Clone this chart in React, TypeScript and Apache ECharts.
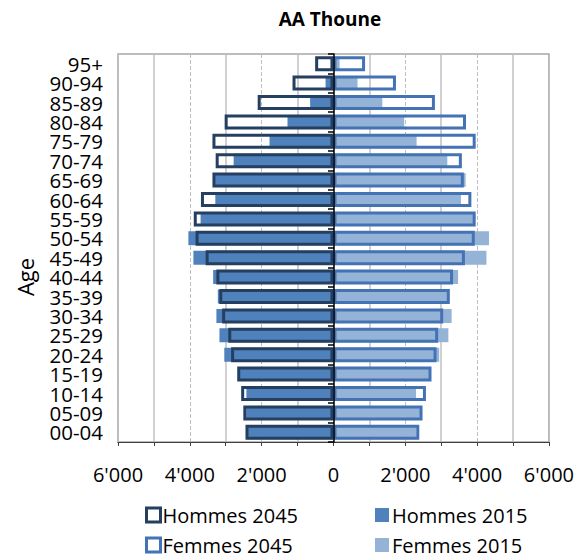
import React, { useEffect, useRef } from "react";
import * as echarts from "echarts";

const categories = ["00-04","05-09","10-14","15-19","20-24","25-29","30-34","35-39","40-44","45-49","50-54","55-59","60-64","65-69","70-74","75-79","80-84","85-89","90-94","95+"];
const men2015 = [2400,2430,2425,2620,3040,3175,3260,3220,3350,3900,4040,3700,3290,3330,2780,1780,1280,650,220,40];
const men2045 = [2450,2510,2570,2680,2850,2930,3100,3180,3260,3560,3840,3890,3690,3370,3280,3370,3030,2110,1140,510];
const women2015 = [2315,2410,2300,2670,2945,3200,3290,3170,3470,4260,4330,3920,3550,3680,3170,2315,1970,1360,670,170];
const women2045 = [2390,2480,2575,2730,2870,2915,3055,3240,3330,3660,3935,3960,3840,3630,3575,3960,3690,2825,1740,880];

const FONT = "'Open Sans', 'Noto Sans', sans-serif";
const MEN_FILL = "#4F81BD";
const WOMEN_FILL = "#95B3D7";
const MEN_LINE = "#243F60";
const WOMEN_LINE = "#4373B4";

function fmt(v: number): string {
  const a = Math.abs(v);
  if (a === 0) return "0";
  const s = String(a);
  return s.replace(/\B(?=(\d{3})+(?!\d))/g, "'");
}

export default function App() {
  const ref = useRef<HTMLDivElement>(null);
  useEffect(() => {
    document.body.style.margin = "0";
    if (!ref.current) return;
    const chart = echarts.init(ref.current, undefined, { renderer: "svg" });
    chart.setOption({
      animation: false,
      backgroundColor: "#ffffff",
      textStyle: { fontFamily: FONT },
      graphic: [
        {
          type: "text",
          x: 330,
          y: 19,
          style: { text: "AA Thoune", font: `bold 19px ${FONT}`, fill: "#000", textAlign: "center", textVerticalAlign: "middle" },
        },
        {
          type: "text",
          x: 25,
          y: 277,
          rotation: Math.PI / 2,
          style: { text: "Age", font: `22px ${FONT}`, fill: "#000", textAlign: "center", textVerticalAlign: "middle" },
        },
      ],
      grid: { left: 118, right: 27, top: 54, bottom: 116, show: true, borderColor: "#A6A6A6", borderWidth: 1.5, backgroundColor: "transparent" },
      legend: [
        {
          orient: "vertical",
          left: 145,
          top: 505,
          padding: 0,
          itemWidth: 14,
          itemHeight: 14,
          itemGap: 10,
          icon: "rect",
          textStyle: { fontFamily: FONT, fontSize: 20, color: "#000", lineHeight: 20, padding: [0, 0, 0, -3] },
          data: [
            { name: "Hommes 2045", itemStyle: { color: "#ffffff", borderColor: MEN_LINE, borderWidth: 3 } },
            { name: "Femmes 2045", itemStyle: { color: "#ffffff", borderColor: WOMEN_LINE, borderWidth: 3 } },
          ],
        },
        {
          orient: "vertical",
          left: 375,
          top: 505,
          padding: 0,
          itemWidth: 14,
          itemHeight: 14,
          itemGap: 10,
          icon: "rect",
          textStyle: { fontFamily: FONT, fontSize: 20, color: "#000", lineHeight: 20, padding: [0, 0, 0, -2] },
          data: [{ name: "Hommes 2015" }, { name: "Femmes 2015" }],
        },
      ],
      xAxis: {
        type: "value",
        min: -6000,
        max: 6000,
        interval: 2000,
        axisLine: { show: true, onZero: false, lineStyle: { color: "#404040", width: 1 } },
        axisTick: { show: true, length: 4, lineStyle: { color: "#404040" } },
        minorTick: { show: true, splitNumber: 2, length: 4, lineStyle: { color: "#404040" } },
        splitLine: { show: true, lineStyle: { color: "#BFBFBF", type: "dashed", width: 1 } },
        minorSplitLine: { show: true, lineStyle: { color: "#C0C0C0", width: 1.5 } },
        axisLabel: { formatter: (v: number) => fmt(v), fontSize: 20, color: "#000", margin: 22, fontFamily: FONT },
      },
      yAxis: [
        {
          type: "category",
          data: categories,
          axisLine: { show: false, onZero: false },
          axisTick: { show: false },
          axisLabel: { interval: 0, fontSize: 20.5, lineHeight: 18, color: "#000", margin: 15, fontFamily: FONT },
        },
        {
          type: "category",
          data: categories,
          position: "left",
          offset: -216,
          z: 10,
          axisLine: { show: true, onZero: false, lineStyle: { color: "#000", width: 1.5 } },
          axisTick: { show: true, length: 6, lineStyle: { color: "#000", width: 1.5 } },
          axisLabel: { show: false },
        },
      ],
      series: [
        {
          name: "Hommes 2015",
          type: "bar",
          yAxisIndex: 0,
          barWidth: 14,
          barGap: "-100%",
          data: men2015.map((v) => -v),
          itemStyle: { color: MEN_FILL },
          z: 1,
        },
        {
          name: "Femmes 2015",
          type: "bar",
          yAxisIndex: 0,
          barWidth: 14,
          barGap: "-100%",
          data: women2015,
          itemStyle: { color: WOMEN_FILL },
          z: 1,
        },
        {
          name: "Hommes 2045",
          type: "bar",
          yAxisIndex: 1,
          barWidth: 15,
          barGap: "-100%",
          data: men2045.map((v) => -v),
          itemStyle: { color: "rgba(0,0,0,0)", borderColor: MEN_LINE, borderWidth: 3 },
          z: 2,
        },
        {
          name: "Femmes 2045",
          type: "bar",
          yAxisIndex: 1,
          barWidth: 15,
          barGap: "-100%",
          data: women2045,
          itemStyle: { color: "rgba(0,0,0,0)", borderColor: WOMEN_LINE, borderWidth: 3 },
          z: 2,
        },
      ],
    });
    return () => chart.dispose();
  }, []);
  return <div ref={ref} style={{ width: 577, height: 558 }} />;
}
